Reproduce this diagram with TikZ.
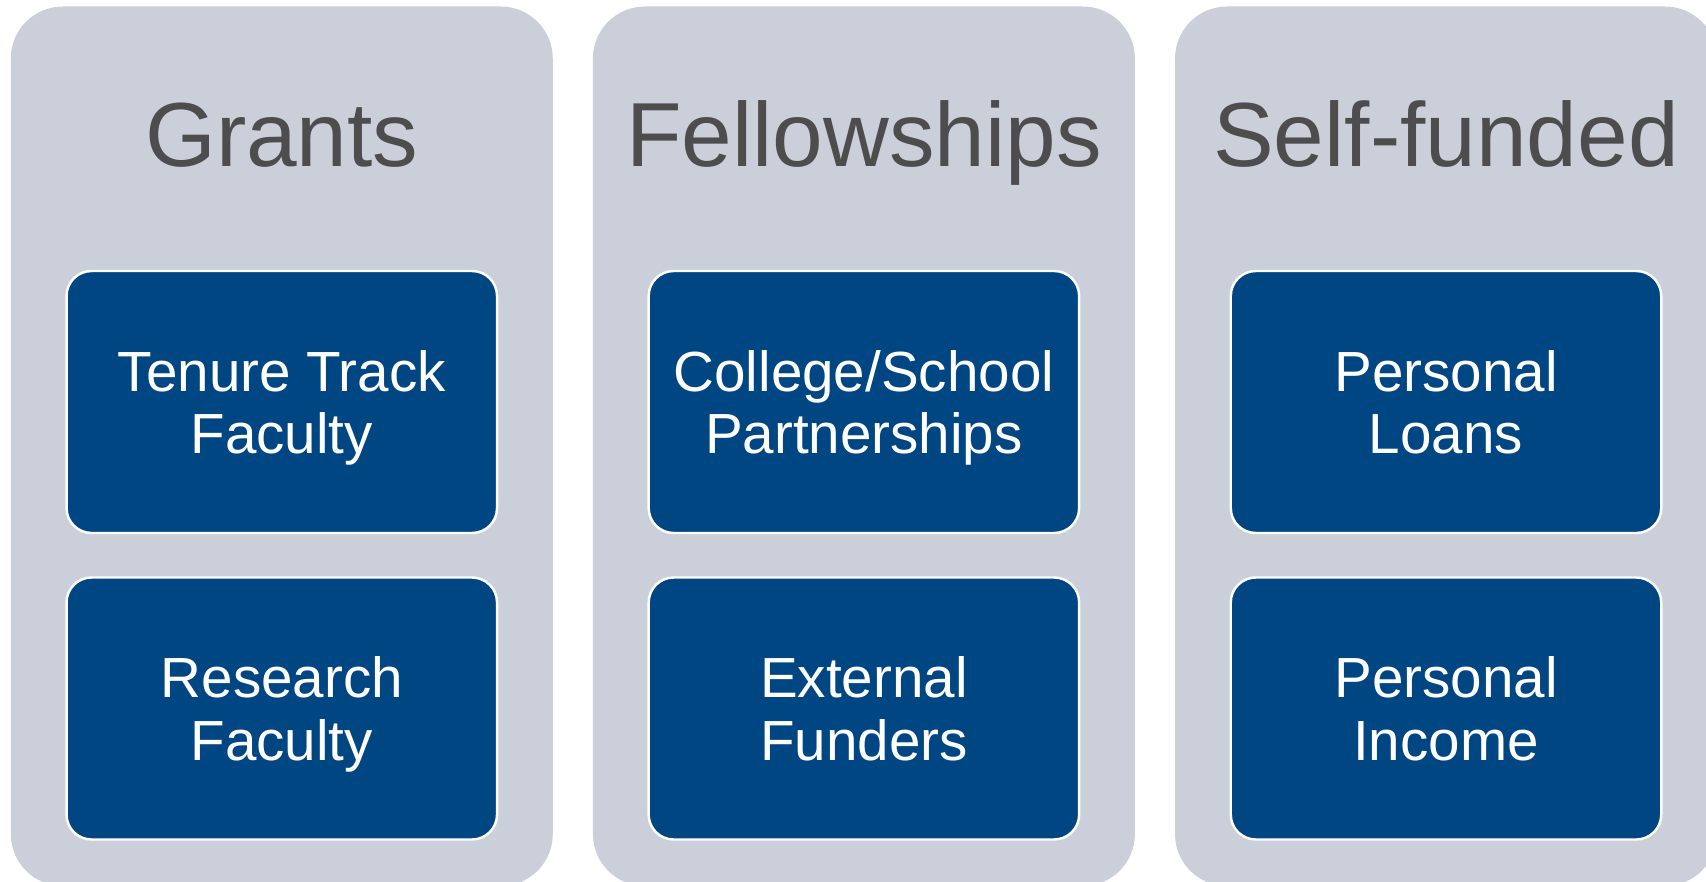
\documentclass[tikz,border=0pt]{standalone}
\usepackage{fontspec}
\setmainfont{Liberation Sans}
\definecolor{panelgray}{HTML}{CBCFDA}
\definecolor{boxblue}{HTML}{004682}
\definecolor{titlegray}{HTML}{4D4D4D}

\begin{document}
\begin{tikzpicture}[
		panel/.style={fill=panelgray, rounded corners=1.04cm, minimum width=10.84cm,
				minimum height=17.59cm, inner sep=0pt},
		heading/.style={anchor=base, text=titlegray, font=\fontsize{51.8}{60}\selectfont},
		source/.style={draw=white, line width=1.4pt, fill=boxblue, text=white,
				rounded corners=0.5cm, minimum width=8.61cm, minimum height=5.24cm,
				align=center, text depth=0pt, font=\fontsize{32.2}{35.3}\selectfont}]
	\clip (0,0) rectangle (34.12,-17.64);
	\foreach \i/\name/\title/\upper/\lower in {
			0/grants/Grants/{Tenure Track\\Faculty}/{Research\\Faculty},
			1/fellow/Fellowships/{College/School\\Partnerships}/{External\\Funders},
			2/self/Self-funded/{Personal\\Loans}/{Personal\\Income}}{
			\node[panel] (\name) at ({5.636+11.642*\i}, -8.925) {};
			\node[heading] (\name-title) at ({5.636+11.642*\i}, -3.33) {\title};
			\node[source] (\name-up) at ({5.636+11.642*\i}, -8.04) {\upper};
			\node[source] (\name-low) at ({5.636+11.642*\i}, -14.17) {\lower};
		}
\end{tikzpicture}
\end{document}
